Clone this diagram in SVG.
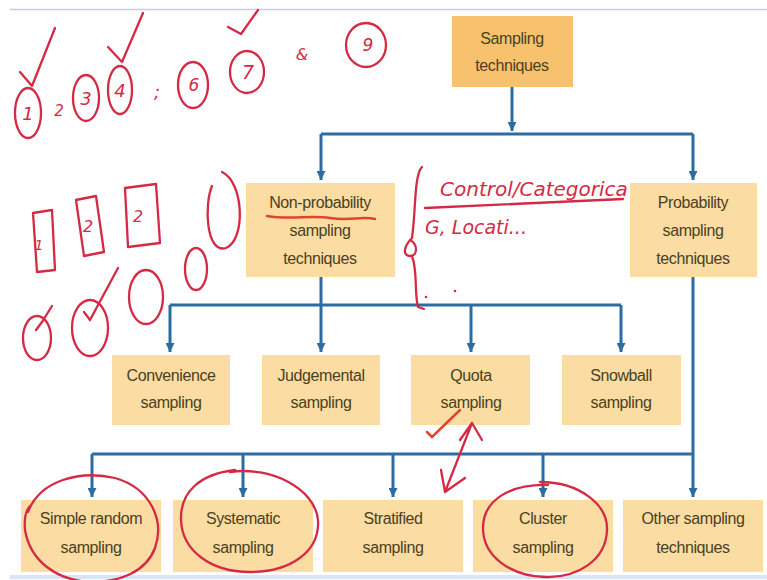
<svg xmlns="http://www.w3.org/2000/svg" width="767" height="580" viewBox="0 0 767 580">
<defs>
<style>
.box{fill:#FBDCA2;}
.top{fill:#F8C16E;}
.t{font-family:"Liberation Sans",Arial,sans-serif;font-size:16px;fill:#4A4122;text-anchor:middle;letter-spacing:-0.4px;}
.c{fill:none;stroke:#2B6CA3;stroke-width:3;}
.ink{fill:none;stroke:#D42A45;stroke-width:2.3;stroke-linecap:round;stroke-linejoin:round;}
.ink2{fill:none;stroke:#E0452A;stroke-width:2.5;stroke-linecap:round;}
.hw{font-family:"DejaVu Sans",sans-serif;font-style:italic;fill:#D42A45;}
</style>
<marker id="arr" viewBox="0 0 10 10" refX="10" refY="5" markerWidth="10" markerHeight="9" markerUnits="userSpaceOnUse" orient="auto">
<path d="M0,0 L10,5 L0,10 Z" fill="#2B6CA3"/>
</marker>
</defs>
<rect width="767" height="580" fill="#FFFFFF"/>
<line x1="10" y1="9.5" x2="767" y2="9.5" stroke="#C9CDEB" stroke-width="1.5"/>
<line x1="10" y1="577" x2="767" y2="577" stroke="#D6E6F4" stroke-width="4"/>

<g id="connectors">
<path class="c" d="M512,87 V131" marker-end="url(#arr)"/>
<path class="c" d="M321,134 H693"/>
<path class="c" d="M321,134 V180" marker-end="url(#arr)"/>
<path class="c" d="M693,134 V180" marker-end="url(#arr)"/>
<path class="c" d="M321,277 V305"/>
<path class="c" d="M170,305 H621"/>
<path class="c" d="M170,305 V352" marker-end="url(#arr)"/>
<path class="c" d="M321,305 V352" marker-end="url(#arr)"/>
<path class="c" d="M471,305 V352" marker-end="url(#arr)"/>
<path class="c" d="M621,305 V352" marker-end="url(#arr)"/>
<path class="c" d="M693,277 V454"/>
<path class="c" d="M92,454 H693"/>
<path class="c" d="M92,454 V497" marker-end="url(#arr)"/>
<path class="c" d="M243,454 V497" marker-end="url(#arr)"/>
<path class="c" d="M393,454 V497" marker-end="url(#arr)"/>
<path class="c" d="M543,454 V497" marker-end="url(#arr)"/>
<path class="c" d="M693,454 V497" marker-end="url(#arr)"/>
</g>

<g id="sampling-techniques"><rect class="top" x="452" y="16" width="121" height="71"/><text class="t" x="512" y="44">Sampling</text><text class="t" x="512" y="71">techniques</text></g>
<g id="non-probability"><rect class="box" x="246" y="183" width="149" height="94"/><text class="t" x="320" y="208">Non-probability</text><text class="t" x="320" y="236">sampling</text><text class="t" x="320" y="264">techniques</text></g>
<g id="probability"><rect class="box" x="630" y="183" width="127" height="94"/><text class="t" x="693" y="208">Probability</text><text class="t" x="693" y="236">sampling</text><text class="t" x="693" y="264">techniques</text></g>

<g id="convenience"><rect class="box" x="112" y="355" width="118" height="70"/><text class="t" x="171" y="381">Convenience</text><text class="t" x="171" y="408">sampling</text></g>
<g id="judgemental"><rect class="box" x="262" y="355" width="118" height="70"/><text class="t" x="321" y="381">Judgemental</text><text class="t" x="321" y="408">sampling</text></g>
<g id="quota"><rect class="box" x="411" y="355" width="119" height="70"/><text class="t" x="471" y="381">Quota</text><text class="t" x="471" y="408">sampling</text></g>
<g id="snowball"><rect class="box" x="562" y="355" width="119" height="70"/><text class="t" x="621" y="381">Snowball</text><text class="t" x="621" y="408">sampling</text></g>

<g id="simple-random"><rect class="box" x="21" y="500" width="140" height="72"/><text class="t" x="91" y="524">Simple random</text><text class="t" x="91" y="553">sampling</text></g>
<g id="systematic"><rect class="box" x="173" y="500" width="140" height="72"/><text class="t" x="243" y="524">Systematic</text><text class="t" x="243" y="553">sampling</text></g>
<g id="stratified"><rect class="box" x="323" y="500" width="140" height="72"/><text class="t" x="393" y="524">Stratified</text><text class="t" x="393" y="553">sampling</text></g>
<g id="cluster"><rect class="box" x="473" y="500" width="140" height="72"/><text class="t" x="543" y="524">Cluster</text><text class="t" x="543" y="553">sampling</text></g>
<g id="other"><rect class="box" x="623" y="500" width="140" height="72"/><text class="t" x="693" y="524">Other sampling</text><text class="t" x="693" y="553">techniques</text></g>

<g id="annotations">
<ellipse class="ink" cx="28" cy="113" rx="13" ry="25"/>
<text class="hw" x="28" y="120" font-size="18" text-anchor="middle">1</text>
<path class="ink" d="M20,72 L32,86 L55,28"/>
<text class="hw" x="59" y="116" font-size="15" text-anchor="middle">2</text>
<ellipse class="ink" cx="86" cy="98" rx="13" ry="23"/>
<text class="hw" x="86" y="105" font-size="18" text-anchor="middle">3</text>
<ellipse class="ink" cx="120" cy="90" rx="12" ry="24"/>
<text class="hw" x="120" y="97" font-size="18" text-anchor="middle">4</text>
<path class="ink" d="M108,47 L122,62 L143,13"/>
<text class="hw" x="157" y="98" font-size="18" text-anchor="middle">;</text>
<ellipse class="ink" cx="193" cy="85" rx="15" ry="23"/>
<text class="hw" x="194" y="91" font-size="17" text-anchor="middle">6</text>
<ellipse class="ink" cx="247" cy="72" rx="17" ry="21"/>
<text class="hw" x="248" y="79" font-size="19" text-anchor="middle">7</text>
<path class="ink" d="M228,27 L241,34 L258,10"/>
<text class="hw" x="302" y="60" font-size="16" text-anchor="middle">&amp;</text>
<ellipse class="ink" cx="366" cy="45" rx="20" ry="22"/>
<text class="hw" x="368" y="51" font-size="17" text-anchor="middle">9</text>
<path class="ink" d="M33,213 L52,210 L55,270 L37,272 Z"/>
<text class="hw" x="39" y="250" font-size="14" text-anchor="middle">1</text>
<path class="ink" d="M76,200 L96,196 L104,252 L84,256 Z"/>
<text class="hw" x="88" y="232" font-size="16" text-anchor="middle">2</text>
<path class="ink" d="M125,188 L156,184 L160,243 L128,247 Z"/>
<text class="hw" x="138" y="222" font-size="16" text-anchor="middle">2</text>
<path class="ink" d="M222,172 C244,182 246,240 226,248 C206,254 204,205 212,186"/>
<ellipse class="ink" cx="196" cy="269" rx="11" ry="21"/>
<ellipse class="ink" cx="146" cy="297" rx="17" ry="27"/>
<ellipse class="ink" cx="90" cy="328" rx="18" ry="28"/>
<path class="ink" d="M84,312 L90,320 L118,268"/>
<ellipse class="ink" cx="37" cy="338" rx="14" ry="22"/>
<path class="ink" d="M36,330 L42,322 L52,306"/>
<path class="ink2" d="M267,216 C290,220 310,215 330,218 C350,221 362,216 375,219"/>
<path class="ink" d="M422,167 C414,175 416,210 412,238 C404,246 402,256 410,256 C418,256 418,244 410,240 M412,256 C418,272 414,292 418,307 L424,309"/>
<text class="hw" x="440" y="196" font-size="20">Control/Categorica</text>
<path class="ink" d="M425,208 L623,199"/>
<text class="hw" x="425" y="234" font-size="19">G, Locati...</text>
<circle cx="426" cy="297" r="1.3" fill="#D42A45"/>
<circle cx="455" cy="291" r="1.3" fill="#D42A45"/>
<path class="ink2" d="M427,432 L432,437 L460,410"/>
<path class="ink" d="M472,423 L445,492 M460,440 L472,423 L482,440 M465,478 L445,492 L441,470"/>
<path class="ink" d="M28,512 C40,480 80,470 115,478 C150,488 165,520 155,548 C146,572 120,582 90,582 C55,580 30,560 25,530 C24,518 26,510 30,506"/>
<path class="ink" d="M230,472 C270,466 315,488 318,520 C320,552 290,572 250,572 C210,572 182,550 181,520 C180,492 200,474 235,470"/>
<path class="ink" d="M540,482 C580,482 608,505 607,530 C606,560 578,578 545,577 C510,576 483,556 483,528 C483,500 510,484 548,485"/>
</g>
</svg>
